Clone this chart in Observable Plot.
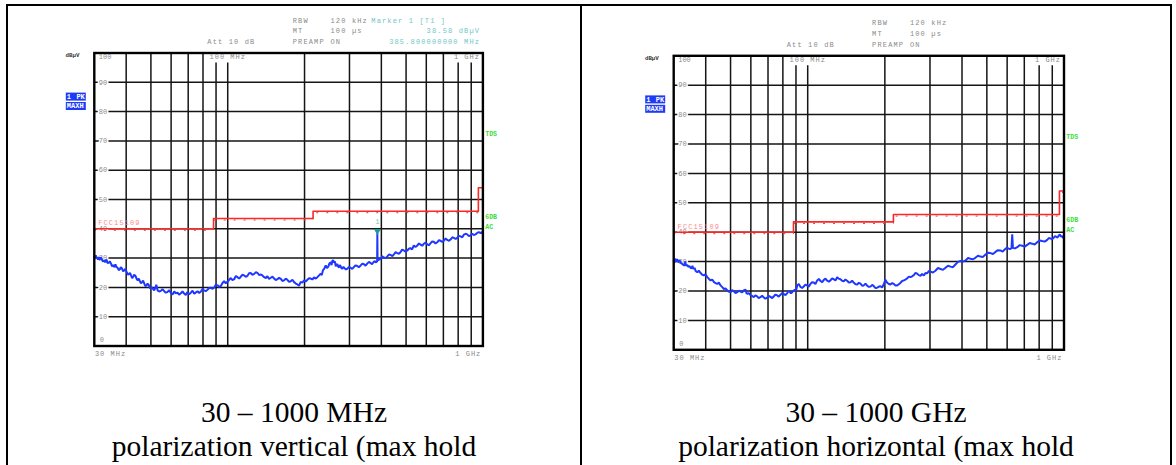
<!DOCTYPE html>
<html>
<head>
<meta charset="utf-8">
<script src="https://cdn.jsdelivr.net/npm/d3@7"></script>
<script src="https://cdn.jsdelivr.net/npm/@observablehq/plot@0.6"></script>
<style>
  body { margin: 0; background: #fff; width: 1176px; height: 465px; overflow: hidden; position: relative; }
  .rule { position: absolute; background: #000; z-index: 3; }
  .panel { position: absolute; top: 0; z-index: 1; }
  .panel svg { max-width: none; }
  .caption { position: absolute; top: 394.5px; text-align: center; font-family: "Liberation Serif", "Times New Roman", serif;
             font-size: 29.5px; line-height: 34.4px; color: #000; white-space: nowrap; }
</style>
</head>
<body>
<div class="rule" style="left:6px;top:4.3px;width:1165.7px;height:2px"></div>
<div class="rule" style="left:6px;top:4.3px;width:2px;height:461px"></div>
<div class="rule" style="left:580px;top:4.3px;width:2px;height:461px"></div>
<div class="rule" style="left:1169.7px;top:4.3px;width:2px;height:461px"></div>
<div id="left" class="panel" style="left:0px"></div>
<div id="right" class="panel" style="left:581px"></div>
<div id="capLeft" class="caption" style="left:8px;width:572px"></div>
<div id="capRight" class="caption" style="left:582px;width:588px"></div>
<script>
// ---- analyzer grid -------------------------------------------------------
const gridFreqMHz = [40, 50, 60, 70, 80, 90, 100, 200, 300, 400, 500, 600, 700, 800, 900];
const labelledFreqMHz = [90, 100, 800, 900];   // lines that stop under the band labels
const gridLevels = [10, 20, 30, 40, 50, 60, 70, 80, 90];
const levelTop = "100";
const levelBottom = "0";
const unitLabel = "dBµV";
const bandStartLabel = "30 MHz";
const bandEndLabel = "1 GHz";
const decadeLabelFreqMHz = 100;
const decadeLabel = "100 MHz";
const traceBadges = [["1", "PK"], ["MAXH", ""]];
const sideLabels = ["TDS", "6DB", "AC"];

// ---- sweep settings ------------------------------------------------------
const settingNames = ["RBW", "MT", "PREAMP"];
const settingValues = ["120 kHz", "100 µs", "ON"];
const attenuationLabel = "Att 10 dB";

// ---- FCC 15.109 class B limit line ---------------------------------------
const limitName = "FCC15109";
const limitFreqMHz = [30, 88, 216, 960, 1000];
const limitLevel = [40, 43.5, 46, 54, 54];

// ---- marker 1 (vertical sweep) -------------------------------------------
const markerFreqMHz = 385.8;
const markerLevel = 38.58;
const markerReadout = ["Marker 1 [T1 ]", "38.58 dBµV", "385.800000000 MHz"];

// ---- max-hold traces: [frequency MHz, level dBµV] --------------------------
const verticalTrace = [
  [30.0, 30.6], [30.2, 29.9], [30.4, 31.0], [30.6, 30.1], [30.8, 30.2], [31.0, 29.5], [31.2, 30.4],
  [31.4, 29.4], [31.6, 29.6], [31.8, 30.3], [32.0, 29.9], [32.4, 28.8], [32.8, 29.2], [33.1, 28.6],
  [33.5, 29.5], [33.8, 28.3], [34.2, 28.4], [34.5, 28.9], [34.9, 28.1], [35.2, 27.2], [35.6, 27.6],
  [36.0, 26.9], [36.3, 27.9], [36.6, 27.0], [37.0, 26.7], [37.4, 25.9], [37.8, 26.2], [38.1, 26.9],
  [38.5, 26.5], [38.9, 25.5], [39.3, 25.8], [39.7, 26.3], [40.2, 25.2], [40.6, 24.4], [41.0, 24.5],
  [41.4, 25.0], [41.8, 24.1], [42.2, 23.2], [42.6, 23.6], [43.0, 24.3], [43.5, 23.9], [44.0, 22.8],
  [44.4, 22.4], [44.8, 23.0], [45.3, 22.1], [45.7, 21.4], [46.2, 21.8], [46.6, 22.3], [47.1, 21.3],
  [47.5, 20.5], [48.0, 20.6], [48.5, 21.3], [49.0, 20.9], [49.5, 19.8], [50.0, 19.6], [50.5, 20.1],
  [51.0, 19.4], [51.5, 19.0], [52.0, 19.8], [52.5, 20.9], [53.1, 19.0], [53.9, 18.6], [54.7, 18.8],
  [55.5, 19.4], [56.4, 18.7], [57.2, 18.2], [58.0, 18.4], [59.0, 19.0], [59.9, 18.1], [60.8, 17.6],
  [61.7, 18.6], [62.6, 18.0], [63.6, 18.2], [64.5, 17.5], [65.5, 18.0], [66.5, 18.6], [67.5, 17.9],
  [68.5, 17.4], [69.5, 18.4], [70.6, 17.7], [71.7, 18.2], [72.8, 18.9], [73.9, 17.8], [75.0, 18.3],
  [76.2, 18.7], [77.3, 18.1], [78.5, 18.6], [79.6, 19.4], [80.8, 19.0], [82.0, 18.7], [83.3, 19.2],
  [84.6, 19.8], [85.9, 19.9], [87.2, 19.5], [88.5, 20.0], [89.8, 20.9], [91.2, 20.7], [92.6, 20.2],
  [94.0, 20.5], [95.4, 21.5], [96.8, 22.1], [98.3, 21.4], [99.8, 21.9], [101.3, 22.6], [102.8, 23.2],
  [104.4, 22.5], [106.0, 22.8], [107.6, 23.9], [109.2, 23.5], [110.9, 23.0], [112.6, 23.7], [114.3, 24.3],
  [116.0, 24.1], [117.7, 23.6], [119.4, 23.9], [121.2, 24.8], [123.0, 24.9], [125.0, 24.3], [127.0, 24.6],
  [129.0, 25.2], [131.0, 24.9], [133.0, 24.2], [135.0, 24.4], [137.0, 24.0], [139.0, 23.5], [141.0, 23.2],
  [143.0, 23.8], [145.2, 22.9], [147.5, 23.3], [149.8, 23.7], [152.0, 23.0], [154.3, 22.5], [156.6, 22.8],
  [159.0, 23.3], [161.4, 22.9], [163.8, 22.2], [166.3, 22.4], [168.8, 23.0], [171.3, 22.6], [174.0, 21.9],
  [176.6, 22.1], [179.3, 22.6], [182.0, 21.8], [184.8, 21.3], [187.6, 21.0], [190.4, 20.6], [193.2, 21.9],
  [196.1, 21.6], [199.1, 22.4], [202.1, 22.0], [205.2, 22.6], [208.3, 23.1], [211.5, 23.0], [214.7, 22.7],
  [218.0, 23.4], [221.3, 23.0], [224.6, 23.5], [228.0, 24.1], [231.4, 24.7], [233.7, 24.2], [236.0, 25.8],
  [239.0, 26.4], [242.1, 27.5], [244.8, 26.6], [247.5, 27.0], [250.4, 28.2], [253.3, 28.6], [255.1, 27.6],
  [257.0, 29.0], [259.0, 29.3], [260.9, 28.4], [263.0, 28.9], [265.0, 27.2], [267.0, 27.8], [269.0, 27.9],
  [271.0, 27.1], [273.0, 26.8], [275.0, 27.6], [277.1, 27.2], [279.2, 26.5], [281.4, 26.4], [284.2, 27.0],
  [287.0, 26.6], [290.6, 26.1], [294.3, 26.4], [298.8, 27.0], [303.3, 26.7], [307.6, 26.3], [312.0, 26.9],
  [316.5, 27.5], [321.0, 27.4], [326.4, 26.9], [331.9, 27.5], [337.0, 28.1], [342.0, 27.9], [347.0, 27.4],
  [352.0, 28.1], [357.6, 28.7], [363.2, 28.3], [367.6, 27.9], [372.0, 28.5], [376.0, 29.0], [380.0, 28.6],
  [385.0, 28.8], [markerFreqMHz, markerLevel], [386.6, 29.2], [392.0, 29.5], [397.5, 29.8], [403.2, 30.6],
  [409.0, 30.2], [415.6, 30.0], [422.2, 30.6], [429.0, 31.3], [436.0, 31.0], [442.0, 30.7], [448.0, 31.3],
  [455.0, 32.0], [461.9, 31.7], [468.4, 31.5], [475.0, 32.0], [482.5, 32.9], [490.0, 32.6], [497.7, 32.2],
  [505.5, 32.6], [512.7, 33.2], [520.0, 33.4], [528.0, 33.0], [536.0, 34.3], [544.6, 33.8], [553.3, 34.3],
  [561.6, 35.0], [570.0, 34.6], [578.5, 34.2], [587.0, 34.9], [596.1, 35.3], [605.3, 34.7], [614.1, 34.4],
  [623.0, 35.0], [632.5, 35.7], [642.0, 35.6], [652.2, 35.0], [662.5, 35.4], [672.7, 36.1], [683.0, 35.9],
  [693.5, 35.5], [704.0, 36.0], [714.5, 36.7], [725.0, 36.2], [736.5, 35.9], [748.0, 36.4], [759.0, 37.1],
  [770.0, 36.9], [781.7, 36.5], [793.4, 36.9], [805.7, 37.6], [818.0, 37.4], [830.0, 37.1], [842.0, 38.0],
  [855.0, 38.3], [868.0, 38.1], [881.0, 37.5], [894.0, 37.7], [907.5, 38.3], [921.0, 37.9], [935.5, 38.1],
  [950.0, 38.6], [964.5, 38.9], [979.0, 38.5], [989.5, 38.9], [1000.0, 38.2]
];

const horizontalTrace = [
  [30.0, 30.3], [30.15, 29.6], [30.3, 31.0], [30.5, 30.4], [30.7, 30.0], [30.85, 30.6], [31.0, 30.8],
  [31.2, 29.9], [31.4, 29.8], [31.6, 30.4], [31.8, 30.1], [32.05, 29.5], [32.3, 29.3], [32.6, 29.0],
  [32.9, 28.7], [33.1, 28.9], [33.3, 30.1], [33.45, 28.8], [33.6, 28.6], [33.9, 28.9], [34.2, 28.2],
  [34.55, 28.5], [34.9, 27.9], [35.2, 27.7], [35.5, 28.6], [35.7, 27.8], [35.9, 27.5], [36.2, 27.9],
  [36.5, 26.9], [36.8, 26.6], [37.1, 26.4], [37.6, 26.9], [38.2, 26.1], [38.7, 25.6], [39.3, 25.3],
  [39.9, 25.7], [40.5, 24.8], [41.1, 24.2], [41.8, 23.6], [42.4, 23.9], [43.1, 23.0], [43.7, 22.7],
  [44.4, 22.4], [45.0, 22.9], [45.7, 21.9], [46.4, 21.3], [47.1, 20.7], [47.8, 20.9], [48.5, 20.2],
  [49.2, 19.8], [50.0, 19.6], [50.7, 20.3], [51.5, 19.9], [52.3, 19.3], [53.1, 19.6], [53.9, 20.1],
  [54.7, 19.8], [55.5, 19.5], [56.3, 20.2], [57.2, 20.5], [57.6, 19.4], [58.1, 19.0], [58.9, 19.3],
  [59.8, 18.6], [60.7, 18.3], [61.6, 17.9], [62.5, 18.5], [63.5, 18.2], [64.4, 17.6], [65.4, 17.9],
  [66.4, 18.4], [67.4, 17.8], [68.4, 17.4], [69.5, 17.7], [70.5, 18.3], [71.6, 18.0], [72.7, 17.6],
  [73.8, 18.2], [74.9, 18.8], [76.0, 18.5], [77.1, 18.1], [78.3, 18.7], [79.5, 19.3], [80.7, 19.0],
  [81.9, 18.6], [83.2, 19.3], [84.1, 19.9], [85.0, 19.8], [86.0, 19.2], [87.0, 19.6], [88.0, 20.1],
  [89.0, 20.4], [90.0, 20.0], [91.0, 21.9], [92.3, 22.4], [93.7, 21.4], [95.1, 21.0], [96.5, 21.5],
  [97.9, 22.2], [99.4, 21.9], [100.9, 21.5], [102.5, 22.4], [104.0, 23.0], [105.6, 22.9], [107.2, 22.4],
  [108.9, 23.6], [110.5, 24.1], [112.2, 23.4], [113.9, 23.0], [115.6, 23.8], [117.3, 24.2], [119.1, 23.5],
  [120.9, 23.2], [122.7, 23.6], [124.5, 24.3], [126.4, 24.0], [128.3, 23.6], [130.3, 24.7], [132.2, 24.2],
  [134.2, 24.0], [136.2, 23.5], [138.3, 23.3], [140.4, 23.9], [142.5, 23.5], [144.7, 22.9], [146.9, 23.0],
  [149.1, 23.5], [151.4, 22.8], [153.7, 22.3], [156.0, 22.2], [158.3, 22.8], [160.7, 22.5], [163.1, 21.8],
  [165.5, 21.9], [168.0, 22.5], [170.6, 21.8], [173.2, 21.4], [175.8, 21.5], [178.5, 22.1], [181.2, 21.6],
  [183.9, 21.0], [186.7, 21.1], [189.5, 21.5], [192.3, 21.6], [195.2, 21.2], [198.2, 22.4], [201.0, 23.8],
  [204.2, 22.8], [207.3, 22.4], [210.4, 22.2], [213.6, 22.7], [216.8, 22.4], [220.1, 21.9], [223.4, 21.9],
  [226.8, 22.3], [230.2, 22.8], [233.6, 23.4], [237.1, 23.6], [240.7, 23.9], [244.4, 24.3], [248.1, 24.9],
  [251.8, 24.7], [255.6, 25.0], [259.5, 25.4], [263.4, 26.2], [267.4, 25.9], [271.4, 25.4], [275.5, 25.2],
  [279.6, 25.8], [283.8, 25.3], [288.1, 26.1], [292.5, 26.0], [296.9, 26.8], [301.4, 26.6], [308.2, 26.3],
  [315.0, 26.9], [322.3, 27.8], [329.7, 27.5], [337.3, 27.2], [345.0, 27.9], [352.8, 28.6], [360.7, 28.3],
  [368.8, 28.1], [377.0, 29.0], [385.8, 29.9], [394.6, 30.2], [403.8, 30.0], [413.0, 30.4], [422.3, 31.2],
  [431.6, 31.0], [441.3, 30.8], [451.0, 31.3], [461.6, 32.0], [472.2, 31.7], [483.1, 31.6], [494.0, 32.4],
  [505.3, 33.0], [516.6, 32.9], [528.3, 32.6], [540.0, 33.3], [552.6, 33.9], [565.2, 33.8], [576.1, 33.4],
  [587.0, 34.1], [598.0, 34.7], [609.0, 34.4], [618.0, 34.3], [624.0, 34.6], [628.0, 39.3], [632.0, 34.6],
  [644.4, 34.5], [656.8, 34.9], [671.9, 35.6], [687.0, 35.4], [702.7, 35.1], [718.4, 35.7], [734.7, 36.3],
  [751.0, 36.1], [768.5, 35.8], [785.9, 36.6], [804.0, 37.2], [822.0, 37.0], [841.0, 36.8], [859.9, 37.4],
  [872.5, 38.0], [885.0, 37.9], [898.5, 37.6], [912.0, 38.1], [922.5, 38.7], [933.0, 38.4], [943.5, 38.2],
  [953.9, 38.9], [963.0, 39.2], [972.0, 38.5], [982.0, 38.7], [992.5, 38.1], [1000.0, 37.9]
];

const captions = {
  left: ["30 – 1000 MHz", "polarization vertical (max hold"],
  right: ["30 – 1000 GHz", "polarization horizontal (max hold"]
};

// ---- drawing -------------------------------------------------------------
const MONO = "Liberation Mono, DejaVu Sans Mono, monospace";
const GREY = "#8a8a8a";
const TEAL_TEXT = "#72c6c6";
const GREEN = "#3ddc3d";
const GRID = "#151515";

// letter spacing for the analyzer's wide monospace lettering
const spaced = (px) => (index, scales, values, dims, context, next) => {
  const g = next(index, scales, values, dims, context);
  if (g) g.setAttribute("letter-spacing", px);
  return g;
};

function note(str, frameAnchor, dx, dy, o = {}) {
  return Plot.text([str], {
    frameAnchor, dx, dy, text: (d) => d,
    fontFamily: MONO, fontSize: 7, fill: GREY,
    textAnchor: "start", lineAnchor: "middle",
    render: spaced(1.15), ...o
  });
}

// blue trace-status badges to the left of the screen
function badges(index, scales, values, dims) {
  const g = d3.create("svg:g")
    .attr("font-family", MONO).attr("font-size", 7).attr("font-weight", "bold").attr("fill", "#fff");
  const x0 = dims.marginLeft - 28;
  traceBadges.forEach(([a, b], i) => {
    const y0 = dims.marginTop + 40.1 + i * 9.4;
    g.append("rect").attr("x", x0).attr("y", y0).attr("width", 20).attr("height", 8).attr("fill", "#1f3cf5");
    g.append("text").attr("x", x0 + 1).attr("y", y0 + 6.2).attr("text-anchor", "start").text(a);
    if (b) g.append("text").attr("x", x0 + 19).attr("y", y0 + 6.2).attr("text-anchor", "end").text(b);
  });
  return g.node();
}

function panel({trace, withMarker, width, height, margins}) {
  const points = trace.map(([f, level]) => ({f, level}));
  const limit = limitFreqMHz.map((f, i) => ({f, level: limitLevel[i]}));
  const fullLines = gridFreqMHz.filter((f) => !labelledFreqMHz.includes(f));

  const marks = [
    // graticule
    Plot.ruleX(fullLines, {x: (d) => d, stroke: GRID, strokeWidth: 1.5}),
    Plot.ruleX(labelledFreqMHz, {x: (d) => d, y1: 0, y2: 96.6, stroke: GRID, strokeWidth: 1.5}),
    Plot.ruleY(gridLevels, {y: (d) => d, stroke: GRID, strokeWidth: 1.5}),
    // level scale, written inside the screen
    Plot.text(gridLevels, {
      x: 30, y: (d) => d, text: (d) => String(d), dx: 4.5,
      fontFamily: MONO, fontSize: 7, fill: GREY, textAnchor: "start",
      stroke: "#fff", strokeWidth: 3.2, paintOrder: "stroke"
    }),
    note(levelTop, "top-left", 4.5, 4.2, {render: null}),
    note(levelBottom, "bottom-left", 5.5, -6.5, {render: null}),
    // limit line
    Plot.line(limit, {x: "f", y: "level", curve: "step-after", stroke: "#ff2626", strokeWidth: 1.6}),
    Plot.line(limit, {x: "f", y: "level", curve: "step-after", stroke: "#d84040", strokeWidth: 1,
                      strokeDasharray: "1.2 8.8", dy: 1.5}),
    Plot.text([limit[0]], {x: "f", y: "level", text: () => limitName, dx: 3.9, dy: -5.7,
                           fontFamily: MONO, fontSize: 7, fill: "#ff8a8a", textAnchor: "start",
                           render: spaced(1.1)}),
    // max-hold trace
    Plot.line(points, {x: "f", y: "level", stroke: "#1f38ff", strokeWidth: 2, strokeLinejoin: "miter"})
  ];

  if (withMarker) {
    const m = [{f: markerFreqMHz, level: markerLevel}];
    marks.push(
      Plot.dot(m, {x: "f", y: "level", symbol: "triangle", rotate: 180, r: 2.6, fill: "#1c9a9a", dy: -2}),
      Plot.text(m, {x: "f", y: "level", text: () => "1", dy: -10.8, fontFamily: MONO, fontSize: 7, fill: TEAL_TEXT}),
      note(markerReadout[0], "top-left", 277, -32.7, {fill: TEAL_TEXT}),
      note(markerReadout[1], "top-right", -2.8, -21.9, {fill: TEAL_TEXT, textAnchor: "end"}),
      note(markerReadout[2], "top-right", -2.8, -11.4, {fill: TEAL_TEXT, textAnchor: "end"})
    );
  }

  marks.push(
    Plot.frame({stroke: "#000", strokeWidth: 2.4}),
    // band labels
    Plot.text([decadeLabelFreqMHz], {x: (d) => d, frameAnchor: "top", dy: 4, text: () => decadeLabel,
                                     fontFamily: MONO, fontSize: 7, fill: GREY, lineAnchor: "middle",
                                     render: spaced(1)}),
    note(bandEndLabel, "top-right", -3, 3.8, {textAnchor: "end", render: spaced(1)}),
    note(bandStartLabel, "bottom-left", 0.6, 7.6, {render: spaced(1)}),
    note(bandEndLabel, "bottom-right", -1.6, 7.6, {textAnchor: "end", render: spaced(1)}),
    // sweep settings
    ...settingNames.map((s, i) => note(s, "top-left", 198.4, -32.7 + i * 10.65)),
    ...settingValues.map((s, i) => note(s, "top-left", 236.2, -32.7 + i * 10.65)),
    note(attenuationLabel, "top-left", 113, -11.4),
    // unit and status labels
    note(unitLabel, "top-left", -28.8, 2.6, {fontSize: 5.8, fontWeight: "bold", fill: "#333", render: null}),
    badges,
    ...sideLabels.map((s, i) => note(s, "top-right", 2.3, [80.9, 163.6, 173.6][i],
                                     {fontWeight: "bold", fontSize: 6.6, fill: GREEN, render: null}))
  );

  return Plot.plot({
    width, height, ...margins,
    x: {type: "log", domain: [30, 1000], axis: null},
    y: {domain: [0, 100], axis: null},
    style: {background: "transparent", overflow: "visible"},
    marks
  });
}

document.getElementById("left").append(panel({
  trace: verticalTrace, withMarker: true,
  width: 581, height: 370,
  margins: {marginLeft: 93.8, marginRight: 98.6, marginTop: 52.5, marginBottom: 24.5}
}));
document.getElementById("right").append(panel({
  trace: horizontalTrace, withMarker: false,
  width: 590, height: 370,
  margins: {marginLeft: 92.2, marginRight: 107.5, marginTop: 55.3, marginBottom: 20.7}
}));

document.getElementById("capLeft").innerHTML = captions.left.join("<br>");
document.getElementById("capRight").innerHTML = captions.right.join("<br>");
</script>
</body>
</html>
